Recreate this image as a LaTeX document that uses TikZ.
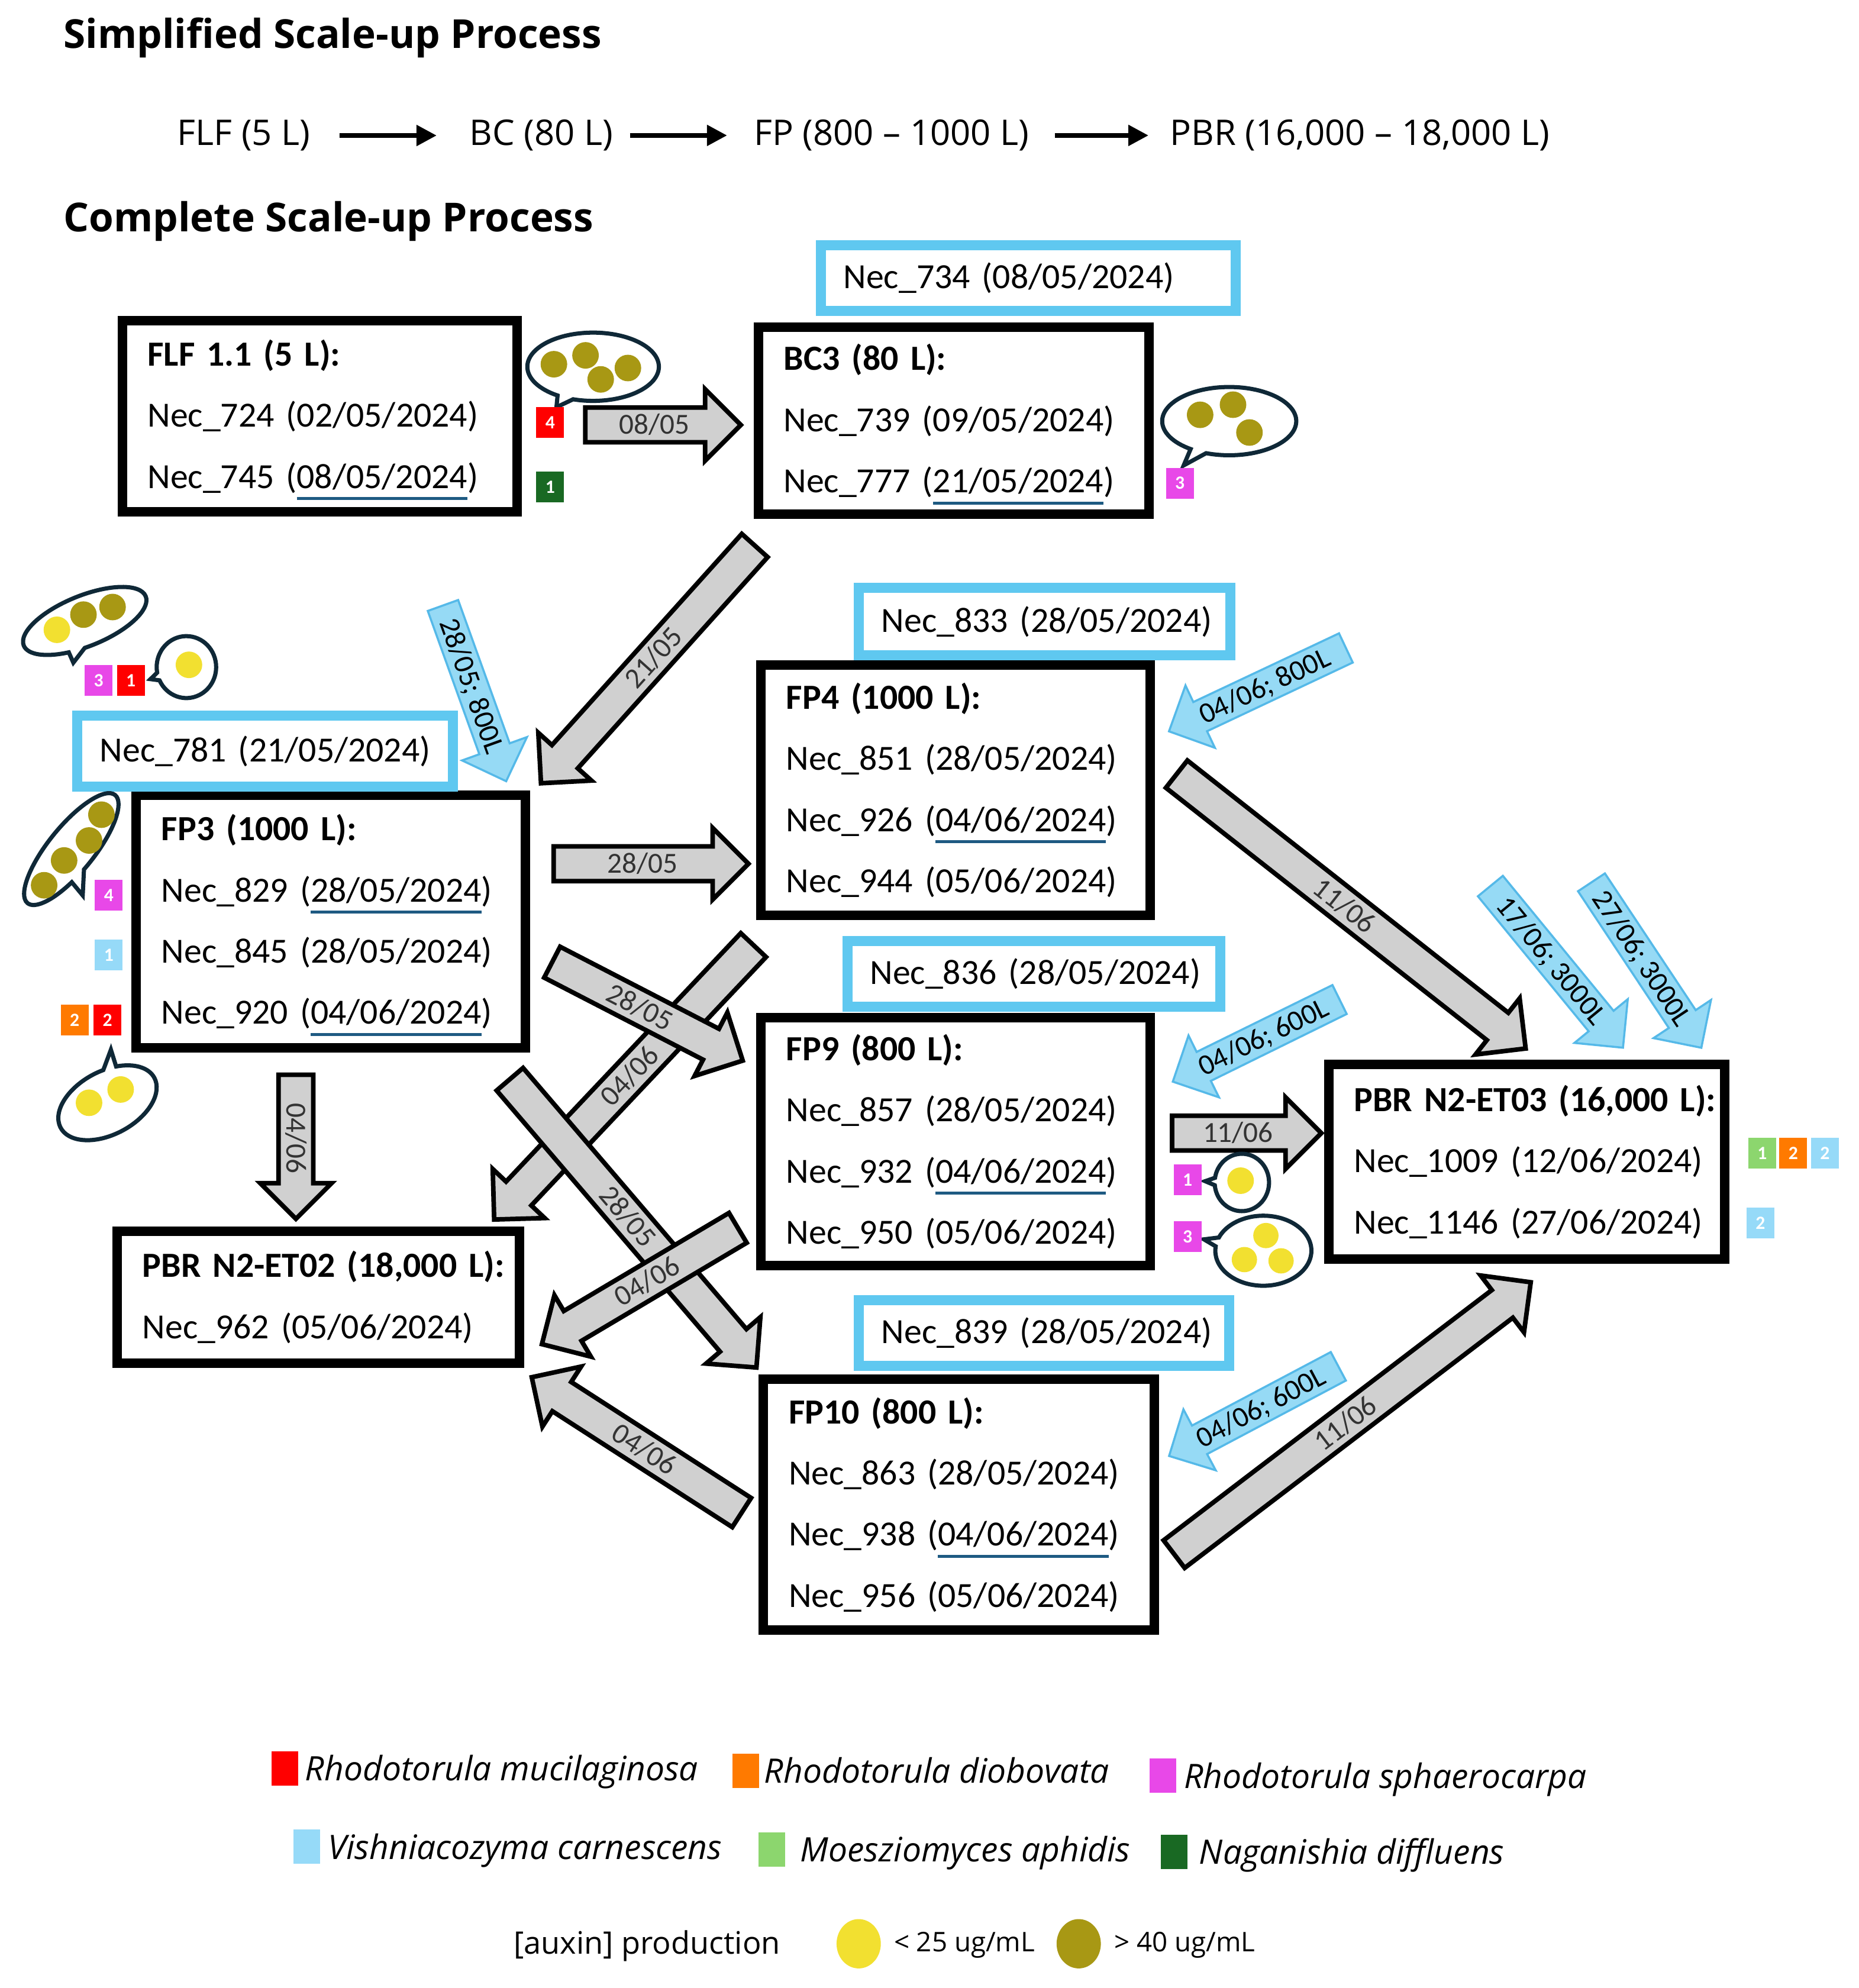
\documentclass[tikz,border=0pt]{standalone}
\usepackage{fontspec}
\usepackage{tikz}
\usetikzlibrary{calc,shapes,arrows,positioning}
\usetikzlibrary{shapes.arrows,shapes.callouts}
\usetikzlibrary{arrows.meta}

\newfontfamily\boxfont[WordSpace=0.35]{Carlito}
\newfontfamily\lblfont{Carlito}
\newfontfamily\headfont{Open Sans}
\newfontfamily\legfont{Open Sans}

\definecolor{boxblue}{RGB}{95,200,240}
\definecolor{arrowgray}{RGB}{208,208,208}
\definecolor{arrowblue}{RGB}{150,218,245}
\definecolor{arrowblueline}{RGB}{85,185,232}
\definecolor{ulblue}{RGB}{30,90,130}
\definecolor{bubline}{RGB}{15,40,55}
\definecolor{olivedot}{RGB}{168,152,20}
\definecolor{yellowdot}{RGB}{242,224,48}
\definecolor{rmuc}{RGB}{255,0,0}
\definecolor{rdio}{RGB}{255,122,0}
\definecolor{rsph}{RGB}{232,72,232}
\definecolor{vcar}{RGB}{150,218,248}
\definecolor{maph}{RGB}{140,214,110}
\definecolor{ndif}{RGB}{25,105,35}

\newcommand{\uldate}[1]{\setbox0\hbox{#1}\rlap{\smash{\color{ulblue}\rule[-2.0mm]{\wd0}{0.5mm}}}\box0}
\newcommand{\boxtitle}[1]{\mbox{\bfseries #1}}
\newcommand{\blockflow}[4][]{%
	\path let \p1=(#2), \p2=(#3),
		\n1={atan2(\y2-\y1,\x2-\x1)}, \n2={veclen(\x2-\x1,\y2-\y1)} in
		node[#1, rotate=\n1, minimum height=\n2, anchor=tail] at (#2) {#4};}

\begin{document}
\begin{tikzpicture}[x=0.21374mm, y=-0.21374mm,
	pbox/.style={draw, line width=1.6mm, fill=white, align=left, anchor=north west, inner xsep=4.27mm, inner ysep=0pt, font=\boxfont\fontsize{17}{29.4}\selectfont},
	nbox/.style={draw=boxblue, line width=1.7mm, fill=white, align=left, anchor=north west, inner xsep=3.85mm, inner ysep=0pt, font=\boxfont\fontsize{17}{29.4}\selectfont},
	arrowbase/.style={single arrow, single arrow tip angle=90, single arrow head extend=3.1mm, inner xsep=0pt, inner ysep=0pt, text height=4.1mm, text depth=1.0mm, font=\lblfont\fontsize{14}{14}\selectfont},
	garrow/.style={arrowbase, draw=black, line width=2.2pt, fill=arrowgray, text=black!80},
	barrow/.style={arrowbase, draw=arrowblueline, line width=1pt, fill=arrowblue, text=black},
	flip/.style={shape border rotate=180, rotate=180},
	sq/.style={fill=#1, minimum width=4.7mm, minimum height=5.2mm, inner sep=0pt, text=white, font=\lblfont\bfseries\fontsize{9}{9}\selectfont},
	legsq/.style={fill=#1, minimum width=4.5mm, minimum height=5.8mm, inner sep=0pt},
	bubble/.style={ellipse callout, draw=bubline, line width=2pt, fill=white, inner sep=0pt},
	legtext/.style={anchor=base west, inner sep=0pt, font=\legfont\fontsize{16.2}{16.2}\selectfont\itshape},
	head/.style={anchor=base west, inner sep=0pt, font=\headfont\bfseries\fontsize{19.2}{19.2}\selectfont},
	simple/.style={anchor=base west, inner sep=0pt, font=\headfont\fontsize{17}{17}\selectfont}
	]
	
	\fill[white] (0,0) rectangle (1470,1572);
	\useasboundingbox (0,0) rectangle (1470,1572);
	
	% simplified process
	\node[head] (simpletitle) at (50,38) {Simplified Scale-up Process};
	\node[simple] (sflf) at (140,115) {FLF (5 L)};
	\node[simple] (sbc) at (371,115) {BC (80 L)};
	\node[simple] (sfp) at (596,115) {FP (800 – 1000 L)};
	\node[simple] (spbr) at (925,115) {PBR (16,000 – 18,000 L)};
	\draw[line width=2.2pt, -{Triangle[length=3.4mm, width=3.4mm]}, shorten <=4.9mm, shorten >=5.5mm] (sflf) -- (sbc);
	\draw[line width=2.2pt, -{Triangle[length=3.4mm, width=3.4mm]}, shorten <=2.8mm, shorten >=4.5mm] (sbc) -- (sfp);
	\draw[line width=2.2pt, -{Triangle[length=3.4mm, width=3.4mm]}, shorten <=4.3mm, shorten >=3.6mm] (sfp) -- (spbr);
	
	% complete process
	\node[head] (fulltitle) at (50,183) {Complete Scale-up Process};
	
	\node[pbox, text width=58.14mm, minimum height=32.27mm] (flf) at (93,250) {\boxtitle{FLF 1.1 (5 L):}\\Nec\_724~(02/05/2024)\\Nec\_745~(\uldate{08/05/2024})};
	\node[pbox, text width=57.50mm, minimum height=31.63mm] (bc3) at (596,255) {\boxtitle{BC3 (80 L):}\\Nec\_739~(09/05/2024)\\Nec\_777~(\uldate{21/05/2024})};
	\node[pbox, text width=57.28mm, minimum height=42.75mm] (fp3) at (104,625) {\boxtitle{FP3 (1000 L):}\\Nec\_829~(\uldate{28/05/2024})\\Nec\_845~(28/05/2024)\\Nec\_920~(\uldate{04/06/2024})};
	\node[pbox, text width=57.28mm, minimum height=42.32mm] (fp4) at (598,522) {\boxtitle{FP4 (1000 L):}\\Nec\_851~(28/05/2024)\\Nec\_926~(\uldate{04/06/2024})\\Nec\_944~(05/06/2024)};
	\node[pbox, text width=57.28mm, minimum height=41.89mm] (fp9) at (598,801) {\boxtitle{FP9 (800 L):}\\Nec\_857~(28/05/2024)\\Nec\_932~(\uldate{04/06/2024})\\Nec\_950~(05/06/2024)};
	\node[pbox, text width=57.50mm, minimum height=42.32mm] (fp10) at (600,1087) {\boxtitle{FP10 (800 L):}\\Nec\_863~(28/05/2024)\\Nec\_938~(\uldate{04/06/2024})\\Nec\_956~(05/06/2024)};
	\node[pbox, text width=59.42mm, minimum height=22.23mm] (pbr02) at (89,970) {\boxtitle{PBR N2-ET02 (18,000 L):}\\Nec\_962~(05/06/2024)};
	\node[pbox, text width=58.35mm, minimum height=32.92mm] (pbr03) at (1047,838) {\boxtitle{PBR N2-ET03 (16,000 L):}\\Nec\_1009~(12/06/2024)\\Nec\_1146~(27/06/2024)};
	
	\node[nbox, text width=62.41mm, minimum height=11.11mm] (n734) at (645,190) {Nec\_734~(08/05/2024)};
	\node[nbox, text width=55.79mm, minimum height=11.97mm] (n781) at (57,562) {Nec\_781~(21/05/2024)};
	\node[nbox, text width=55.15mm, minimum height=11.33mm] (n833) at (675,461) {Nec\_833~(28/05/2024)};
	\node[nbox, text width=55.36mm, minimum height=11.11mm] (n836) at (666,740) {Nec\_836~(28/05/2024)};
	\node[nbox, text width=54.93mm, minimum height=11.11mm] (n839) at (675,1024) {Nec\_839~(28/05/2024)};
	
	% transfer arrows
	\coordinate (g1s) at (461,336);   \coordinate (g1e) at (584,336);
	\coordinate (g2s) at (598,430);   \coordinate (g2e) at (429,618);
	\coordinate (g3s) at (436,683);   \coordinate (g3e) at (590,683);
	\coordinate (g4s) at (435,760);   \coordinate (g4e) at (586,838);
	\coordinate (g5s) at (597,746);   \coordinate (g5e) at (392,963);
	\coordinate (g6s) at (402,852);   \coordinate (g6e) at (597,1080);
	\coordinate (g7s) at (585,970);   \coordinate (g7e) at (430,1062);
	\coordinate (g8s) at (588,1197);  \coordinate (g8e) at (422,1090);
	\coordinate (g9s) at (234,848);   \coordinate (g9e) at (234,962);
	\coordinate (g10s) at (929,611);  \coordinate (g10e) at (1205,828);
	\coordinate (g11s) at (925,896);  \coordinate (g11e) at (1043,896);
	\coordinate (g12s) at (927,1230); \coordinate (g12e) at (1209,1015);
	
	\blockflow[garrow, name=ga1]{g1s}{g1e}{08/05}
	\blockflow[garrow, flip, name=ga2]{g2s}{g2e}{21/05}
	\blockflow[garrow, name=ga3]{g3s}{g3e}{28/05}
	\blockflow[garrow, flip, name=ga5]{g5s}{g5e}{04/06}
	\blockflow[garrow, name=ga4]{g4s}{g4e}{28/05}
	\blockflow[garrow, name=ga6]{g6s}{g6e}{28/05}
	\blockflow[garrow, flip, name=ga7]{g7s}{g7e}{04/06}
	\blockflow[garrow, flip, name=ga8]{g8s}{g8e}{04/06}
	\blockflow[garrow, name=ga9]{g9s}{g9e}{04/06}
	\blockflow[garrow, name=ga10]{g10s}{g10e}{11/06}
	\blockflow[garrow, name=ga11]{g11s}{g11e}{11/06}
	\blockflow[garrow, name=ga12]{g12s}{g12e}{11/06}
	
	% volume arrows
	\coordinate (b1s) at (350,478);   \coordinate (b1e) at (400,617);
	\coordinate (b2s) at (1065,512);  \coordinate (b2e) at (925,578);
	\coordinate (b3s) at (1060,790);  \coordinate (b3e) at (928,855);
	\coordinate (b4s) at (1059,1080); \coordinate (b4e) at (925,1151);
	\coordinate (b5s) at (1178,700);  \coordinate (b5e) at (1283,828);
	\coordinate (b6s) at (1258,697);  \coordinate (b6e) at (1345,828);
	
	\blockflow[barrow, name=ba1]{b1s}{b1e}{28/05; 800L}
	\blockflow[barrow, flip, name=ba2]{b2s}{b2e}{04/06; 800L}
	\blockflow[barrow, flip, name=ba3]{b3s}{b3e}{04/06; 600L}
	\blockflow[barrow, flip, name=ba4]{b4s}{b4e}{04/06; 600L}
	\blockflow[barrow, name=ba5]{b5s}{b5e}{17/06; 3000L}
	\blockflow[barrow, name=ba6]{b6s}{b6e}{27/06; 3000L}
	
	% auxin bubbles
	\node[bubble, minimum width=22.23mm, minimum height=11.54mm, callout absolute pointer={(440,322)}] (bub1) at (469,290) {};
	\fill[olivedot] (438,288) circle (10.5);
	\fill[olivedot] (463,281) circle (10.5);
	\fill[olivedot] (475,300) circle (10.5);
	\fill[olivedot] (496.5,291) circle (10.5);
	
	\node[bubble, minimum width=22.66mm, minimum height=11.54mm, callout absolute pointer={(936,368)}] (bub2) at (972,333) {};
	\fill[olivedot] (949,328) circle (10.5);
	\fill[olivedot] (975,320) circle (10.5);
	\fill[olivedot] (988,342) circle (10.5);
	
	\node[bubble, minimum width=22.23mm, minimum height=8.55mm, rotate=22, callout absolute pointer={(58,524)}] (bub3) at (67,491) {};
	\fill[yellowdot] (45,498) circle (10.5);
	\fill[olivedot] (66,486) circle (10.5);
	\fill[olivedot] (89,480) circle (10.5);
	
	\node[bubble, minimum width=10.05mm, minimum height=10.47mm, callout absolute pointer={(119,537)}] (bub4) at (147.4,527.5) {};
	\fill[yellowdot] (149.4,525.7) circle (10.5);
	
	\node[bubble, minimum width=23.51mm, minimum height=7.7mm, rotate=51, callout absolute pointer={(65.4,708)}] (bub5) at (56.4,671.4) {};
	\fill[olivedot] (34.9,700) circle (10.5);
	\fill[olivedot] (50.7,680.4) circle (10.5);
	\fill[olivedot] (70.4,664.6) circle (10.5);
	\fill[olivedot] (80.2,644.2) circle (10.5);
	
	\node[bubble, minimum width=17.95mm, minimum height=10.69mm, rotate=28, callout absolute pointer={(87.7,830)}] (bub6) at (85,872) {};
	\fill[yellowdot] (70.4,872) circle (10.5);
	\fill[yellowdot] (95.4,861.5) circle (10.5);
	
	\node[bubble, minimum width=9.19mm, minimum height=9.70mm, callout absolute pointer={(953,934)}] (bub7) at (982,935) {};
	\fill[yellowdot] (981,933.6) circle (10.5);
	
	\node[bubble, minimum width=16.24mm, minimum height=11.84mm, callout absolute pointer={(952,980)}] (bub8) at (999,989) {};
	\fill[yellowdot] (1001,977) circle (10);
	\fill[yellowdot] (984,996) circle (10);
	\fill[yellowdot] (1013,997) circle (10);
	
	% isolate counts
	\node[sq=rmuc] (q1) at (435,334) {4};
	\node[sq=ndif] (q2) at (435,385) {1};
	\node[sq=rsph] (q3) at (933,382) {3};
	\node[sq=rsph] (q4) at (78,538) {3};
	\node[sq=rmuc] (q5) at (103.5,538) {1};
	\node[sq=rsph] (q6) at (86,708) {4};
	\node[sq=vcar] (q7) at (86,755) {1};
	\node[sq=rdio] (q8) at (59,806.5) {2};
	\node[sq=rmuc] (q9) at (85,806.5) {2};
	\node[sq=rsph] (q10) at (939,933) {1};
	\node[sq=rsph] (q11) at (939,978) {3};
	\node[sq=maph] (q12) at (1393.5,912) {1};
	\node[sq=rdio] (q13) at (1418,912) {2};
	\node[sq=vcar] (q14) at (1443,912) {2};
	\node[sq=vcar] (q15) at (1392,967) {2};
	
	% legend
	\node[legsq=rmuc] (l1) at (225.5,1398.5) {};
	\node[legtext] (l1t) at (241,1408) {Rhodotorula mucilaginosa};
	\node[legsq=rdio] (l2) at (589.5,1400.5) {};
	\node[legtext] (l2t) at (604,1410) {Rhodotorula diobovata};
	\node[legsq=rsph] (l3) at (919.5,1404) {};
	\node[legtext] (l3t) at (936,1414) {Rhodotorula sphaerocarpa};
	\node[legsq=vcar] (l4) at (242.5,1460) {};
	\node[legtext] (l4t) at (259,1470) {Vishniacozyma carnescens};
	\node[legsq=maph] (l5) at (610.5,1462.5) {};
	\node[legtext] (l5t) at (632.6,1472) {Moesziomyces aphidis};
	\node[legsq=ndif] (l6) at (928.5,1464.5) {};
	\node[legtext] (l6t) at (948,1474) {Naganishia diffluens};
	
	\node[anchor=base west, inner sep=0pt, font=\legfont\fontsize{14.9}{14.9}\selectfont] (auxin) at (405.8,1545) {[auxin] production};
	\fill[yellowdot] (679,1537) ellipse [x radius=17.5, y radius=19.5];
	\node[anchor=base west, inner sep=0pt, font=\legfont\fontsize{13}{13}\selectfont] (low) at (706.6,1543) {< 25 ug/mL};
	\fill[olivedot] (853,1537) ellipse [x radius=17.5, y radius=19.5];
	\node[anchor=base west, inner sep=0pt, font=\legfont\fontsize{13}{13}\selectfont] (high) at (880.8,1543) {> 40 ug/mL};
	
\end{tikzpicture}
\end{document}
